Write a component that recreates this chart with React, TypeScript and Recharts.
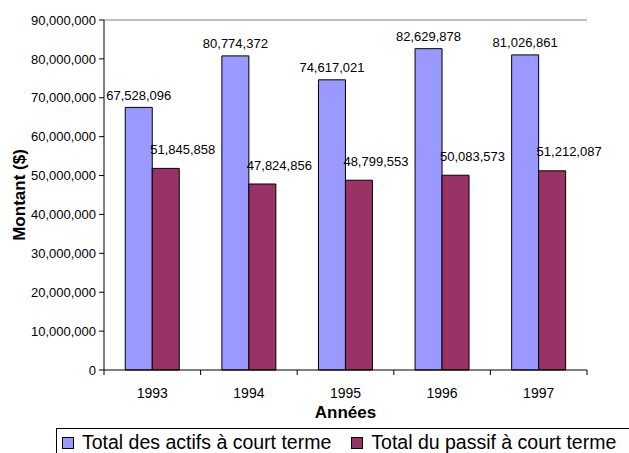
import { BarChart, Bar, XAxis, YAxis, ReferenceLine, LabelList } from 'recharts';

const years = ['1993', '1994', '1995', '1996', '1997'];
const actifs = [67528096, 80774372, 74617021, 82629878, 81026861];
const passif = [51845858, 47824856, 48799553, 50083573, 51212087];
const yTicks = [0, 10000000, 20000000, 30000000, 40000000, 50000000, 60000000, 70000000, 80000000, 90000000];

const BLUE = '#9999FF';
const MAROON = '#993366';
const FONT = '"Liberation Sans", Arial, sans-serif';

const data = years.map((year, i) => ({ year, actifs: actifs[i], passif: passif[i] }));

const fmt = (v: number) => v.toLocaleString('en-US');

// x ticks sit between the categories, like the old Excel chart
const YearTick = (props: any) => {
  const { x, y, payload, index } = props;
  const half = payload.offset || 0;
  return (
    <g>
      <line x1={x - half} x2={x - half} y1={y - 5} y2={y} stroke="#000" />
      {index === years.length - 1 && <line x1={x + half} x2={x + half} y1={y - 5} y2={y} stroke="#000" />}
      <text x={x} y={y + 23} textAnchor="middle" fontSize={14} fontFamily={FONT} fill="#000">
        {payload.value}
      </text>
    </g>
  );
};

const XTitle = (props: any) => {
  const vb = props.viewBox || {};
  return (
    <text x={vb.x + vb.width / 2} y={vb.y + 48} textAnchor="middle" fontSize={17} fontWeight="bold" fontFamily={FONT} fill="#000">
      Années
    </text>
  );
};

const YTitle = (props: any) => {
  const vb = props.viewBox || {};
  const cx = 25;
  const cy = vb.y + vb.height / 2;
  return (
    <text x={cx} y={cy} transform={`rotate(-90 ${cx} ${cy})`} textAnchor="middle" fontSize={17} fontWeight="bold" fontFamily={FONT} fill="#000">
      Montant ($)
    </text>
  );
};

const valueLabel = (dx: number, dy: number) => (props: any) => {
  const { x, y, width, value } = props;
  return (
    <text x={x + width / 2 + dx} y={y - dy} textAnchor="middle" dominantBaseline="central" fontSize={13} fontFamily={FONT} fill="#000">
      {fmt(value)}
    </text>
  );
};

const LegendBox = () => (
  <div
    style={{
      position: 'absolute',
      left: 56,
      top: 428,
      width: 620,
      height: 40,
      border: '1px solid #000',
      display: 'flex',
      alignItems: 'flex-start',
      paddingTop: 5,
      paddingLeft: 5,
      boxSizing: 'border-box',
      fontFamily: FONT,
      fontSize: 19.5,
      whiteSpace: 'nowrap',
    }}
  >
    {[
      { name: 'Total des actifs à court terme', color: BLUE },
      { name: 'Total du passif à court terme', color: MAROON },
    ].map((item, i) => (
      <div key={i} style={{ display: 'flex', alignItems: 'center', marginRight: 20, height: 17 }}>
        <div style={{ width: 10, height: 10, border: '1px solid #000', background: item.color, marginRight: 8 }} />
        <span style={{ lineHeight: '17px', display: 'block', height: 17 }}>{item.name}</span>
      </div>
    ))}
  </div>
);

export default function App() {
  return (
    <div style={{ position: 'absolute', left: 0, top: 0, width: 629, height: 453, overflow: 'hidden', background: '#fff' }}>
      <BarChart
        width={629}
        height={453}
        data={data}
        margin={{ top: 20, right: 42, left: 0, bottom: 0 }}
        barCategoryGap="22%"
        barGap={0}
      >
        <XAxis
          dataKey="year"
          height={83}
          axisLine={{ stroke: '#000' }}
          tickLine={false}
          tickSize={5}
          tickMargin={0}
          tick={<YearTick />}
          interval={0}
          label={<XTitle />}
        />
        <YAxis
          width={104}
          domain={[0, 90000000]}
          ticks={yTicks}
          tickFormatter={fmt}
          axisLine={{ stroke: '#000' }}
          tickLine={{ stroke: '#000' }}
          tickSize={5}
          tickMargin={3}
          tick={{ fontSize: 13, fontFamily: FONT, fill: '#000' }}
          label={<YTitle />}
        />
        <YAxis
          yAxisId="right"
          orientation="right"
          width={0}
          domain={[0, 90000000]}
          tick={false}
          tickLine={false}
          axisLine={{ stroke: '#808080' }}
        />
        <ReferenceLine y={90000000} stroke="#808080" />
        <Bar dataKey="actifs" fill={BLUE} stroke="#000" strokeWidth={1} isAnimationActive={false}>
          <LabelList dataKey="actifs" content={valueLabel(0, 12)} />
        </Bar>
        <Bar dataKey="passif" fill={MAROON} stroke="#000" strokeWidth={1} isAnimationActive={false}>
          <LabelList dataKey="passif" content={valueLabel(17, 19)} />
        </Bar>
      </BarChart>
      <LegendBox />
    </div>
  );
}
